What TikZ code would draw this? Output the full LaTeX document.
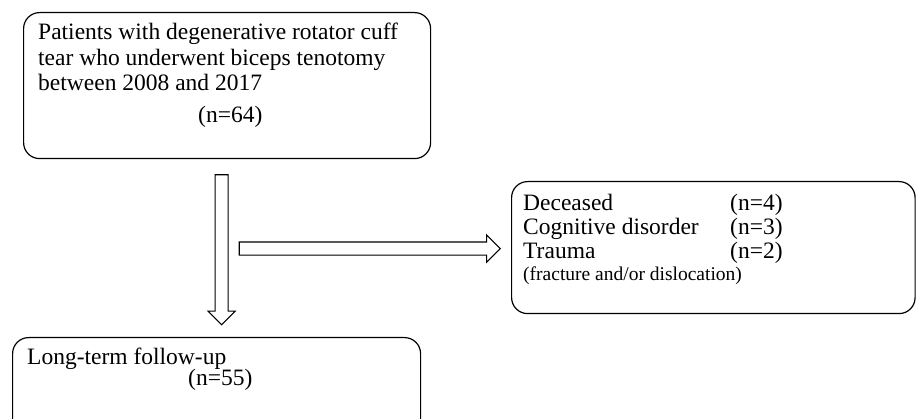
\documentclass[tikz,border=0pt]{standalone}
\usepackage{fontspec}
\setmainfont{Liberation Serif}
\usetikzlibrary{shapes.arrows,positioning,calc}

\begin{document}
\begin{tikzpicture}[x=1pt,y=-1pt]

\tikzset{flowbox/.style={draw, line width=1.2pt, rounded corners=16pt, inner sep=0pt, anchor=north west},
txt/.style={anchor=base west, inner sep=0pt, font=\fontsize{23.5}{26}\selectfont},
smalltxt/.style={anchor=base west, inner sep=0pt, font=\fontsize{19.5}{22}\selectfont},
hollowArrow/.style={single arrow, draw, line width=1.1pt, fill=white, inner sep=0pt,
   text height=12pt, text depth=0pt, text width=0pt,
   single arrow head extend=7pt, single arrow tip angle=90}}

\useasboundingbox (0,0) rectangle (916,419);
\clip (0,0) rectangle (916,419);

%the three boxes
\node[flowbox, minimum width=407pt, minimum height=146pt] (cohort) at (23,12) {};
\node[flowbox, minimum width=403.5pt, minimum height=132pt] (excluded) at (511,181) {};
\node[flowbox, minimum width=408pt, minimum height=110pt] (followup) at (12,337) {};

\foreach \txt/\y [count=\i] in {Patients with degenerative rotator cuff/40, tear who underwent biceps tenotomy/65.5, between 2008 and 2017/91}
    \node[txt] (cohort-\i) at (38,\y) {\txt};
\node[txt] (cohort-n) at (198,123) {(n=64)};

\foreach \reason/\n/\y [count=\i] in {Deceased/4/211, Cognitive disorder/3/235, Trauma/2/259}
  {
    \node[txt] (reason-\i) at (523,\y) {\reason};
    \node[txt] (count-\i) at (730,\y) {(n=\n)};
  }
\node[smalltxt] (reason-note) at (523,281) {(fracture and/or dislocation)};

\node[txt] (followup-1) at (27,365) {Long-term follow-up};
\node[txt] (followup-n) at (188,386) {(n=55)};

%now the hollow arrows
\node[hollowArrow, rotate=-90, minimum height=150pt, anchor=tail] (down) at ([xshift=-5.5pt,yshift=-15pt]cohort.south) {};
\node[hollowArrow, minimum height=261pt, anchor=tip] (out) at ([xshift=-10pt,yshift=-1pt]excluded.west) {};

\end{tikzpicture}
\end{document}
